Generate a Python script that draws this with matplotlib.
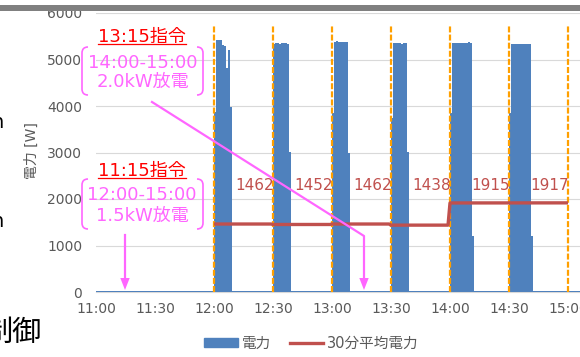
import matplotlib
matplotlib.use('Agg')
import matplotlib.pyplot as plt
import matplotlib.transforms as mtransforms
from matplotlib.lines import Line2D
from matplotlib.patches import Patch, Polygon, PathPatch, Rectangle
from matplotlib.path import Path
import numpy as np

plt.rcParams['font.family'] = ['DejaVu Sans', 'Noto Sans CJK JP']

# ---------------- data ----------------
tick_minutes = [0, 30, 60, 90, 120, 150, 180, 210, 240]   # minutes after 11:00
tick_labels = ['11:00', '11:30', '12:00', '12:30', '13:00', '13:30', '14:00', '14:30', '15:00']
period_starts = [60, 90, 120, 150, 180, 210]               # 12:00 ... 14:30
period_end = 240                                           # 15:00
block_power = [
    [3870, 5420, 5420, 5410, 5310, 5280, 4820, 5200, 3980],
    [5330, 5350, 5350, 5340, 5350, 5350, 5360, 5340, 3010],
    [3850, 5380, 5390, 5380, 5380, 5370, 5380, 5380, 3000],
    [3740, 5350, 5360, 5350, 5350, 5340, 5350, 5350, 3010],
    [3850, 5350, 5350, 5350, 5350, 5350, 5350, 5350, 5360, 5370, 5350, 1200],
    [3850, 5340, 5340, 5340, 5340, 5340, 5340, 5340, 5340, 5340, 5340, 1200],
]
base_power = 30
avg_power = [1462, 1452, 1462, 1438, 1915, 1917]
n_minutes = 250

minutes = np.arange(n_minutes)
power = np.full(n_minutes, float(base_power))
for s, blk in zip(period_starts, block_power):
    power[s:s + len(blk)] = blk

avg_x = np.arange(period_starts[0], period_end + 1)
avg_y = np.array([avg_power[min((m - period_starts[0]) // 30, len(avg_power) - 1)] for m in avg_x])

# ---------------- figure ----------------
W, H = 580, 357
fig = plt.figure(figsize=(W / 100, H / 100), dpi=100)
px = mtransforms.Affine2D().scale(1 / W, -1 / H).translate(0, 1) + fig.transFigure

ppm = (568 - 96) / 240.0
ax = fig.add_axes([96 / W, (H - 292) / H, n_minutes * ppm / W, (292 - 13) / H])
ax.set_xlim(0, n_minutes)
ax.set_ylim(0, 6000)

BLUE = '#4F81BD'
RED = '#C0504D'
ORANGE = '#FFA000'
PINK = '#FF66FF'
GRAY = '#595959'

ax.bar(minutes, power, width=1.0, align='edge', color=BLUE, edgecolor='none',
       linewidth=0, antialiased=False, zorder=2)
ax.vlines(tick_minutes[2:], 0, 5720, colors=ORANGE, linestyles=(0, (2.7, 0.95)),
          linewidth=1.6, zorder=3)
ax.plot(avg_x, avg_y, color=RED, lw=2.4, zorder=4, solid_capstyle='butt')
for s, v in zip(period_starts, avg_power):
    ax.text(s + 20.5, 2290, str(v), ha='center', va='center', fontsize=11,
            color=RED, zorder=5)

ax.set_yticks(range(0, 6001, 1000))
ax.set_xticks(tick_minutes)
ax.set_xticklabels(tick_labels)
ax.yaxis.grid(True, color='#D9D9D9', lw=0.8)
ax.set_axisbelow(True)
ax.tick_params(length=0, labelsize=10, colors=GRAY)
ax.tick_params(axis='x', pad=7)
ax.tick_params(axis='y', pad=10)
for sp in ['left', 'right', 'top']:
    ax.spines[sp].set_visible(False)
ax.spines['bottom'].set_color('#D9D9D9')
ax.spines['bottom'].set_zorder(1)

fig.text(32, 151, '電力 [W]', transform=px, rotation=90, ha='center', va='center',
         fontsize=10, color=GRAY)

fig.legend(handles=[Patch(color=BLUE, label='電力'),
                    Line2D([], [], color=RED, lw=2.4, label='30分平均電力')],
           loc='center', bbox_to_anchor=(311.5 / W, 1 - 343 / H), ncol=2,
           frameon=False, fontsize=10.5, handlelength=2.3, handleheight=0.55,
           handletextpad=0.25, columnspacing=1.3, labelcolor=GRAY)

# ---------------- slide decorations ----------------
fig.add_artist(Rectangle((0, 5), W, 6, transform=px, color='#808080', lw=0))
fig.text(-8.5, 128, 'n', transform=px, fontsize=14, color='black', va='baseline')
fig.text(-8.5, 227, 'n', transform=px, fontsize=14, color='black', va='baseline')
fig.text(-16, 333, '制御', transform=px, fontsize=21, color='black', va='center',
         family=['Noto Sans CJK JP'])

# ---------------- annotations ----------------
def bracket_box(x0, x1, y0, y1, r=6):
    verts = [(x0 + r, y0), (x0, y0), (x0, y0 + r), (x0, y1 - r), (x0, y1), (x0 + r, y1),
             (x1 - r, y0), (x1, y0), (x1, y0 + r), (x1, y1 - r), (x1, y1), (x1 - r, y1)]
    codes = [Path.MOVETO, Path.CURVE3, Path.CURVE3, Path.LINETO, Path.CURVE3, Path.CURVE3] * 2
    fig.add_artist(PathPatch(Path(verts, codes), transform=px, fill=False,
                             edgecolor=PINK, lw=1.2))

def command(xc, base, label):
    t = fig.text(xc, base, label, transform=px, ha='center', va='baseline',
                 fontsize=13, color='#FF0000')
    fig.canvas.draw()
    bb = t.get_window_extent()
    fig.add_artist(Line2D([bb.x0 / W, bb.x1 / W], [1 - (base + 2) / H] * 2,
                          transform=fig.transFigure, color='#FF0000', lw=0.9))

def arrow(points, tip):
    xs = [p[0] for p in points] + [tip[0]]
    ys = [p[1] for p in points] + [tip[1] - 10]
    fig.add_artist(Line2D(xs, ys, transform=px, color=PINK, lw=1.6))
    fig.add_artist(Polygon([(tip[0] - 4.7, tip[1] - 12), (tip[0] + 4.7, tip[1] - 12), tip],
                           closed=True, transform=px, color=PINK, lw=0))

command(142, 42, '13:15指令')
bracket_box(82, 203, 47, 95)
fig.text(142.5, 67.5, '14:00-15:00', transform=px, ha='center', va='baseline',
         fontsize=13, color=PINK)
fig.text(142.5, 86.5, '2.0kW放電', transform=px, ha='center', va='baseline',
         fontsize=13, color=PINK)

command(142, 176, '11:15指令')
bracket_box(82, 203, 179, 229)
fig.text(142, 200, '12:00-15:00', transform=px, ha='center', va='baseline',
         fontsize=13, color=PINK)
fig.text(142, 221, '1.5kW放電', transform=px, ha='center', va='baseline',
         fontsize=13, color=PINK)

arrow([(152, 102), (364, 236)], (364, 290))
arrow([(125, 235)], (125, 290))

fig.savefig('out.png', dpi=100)
